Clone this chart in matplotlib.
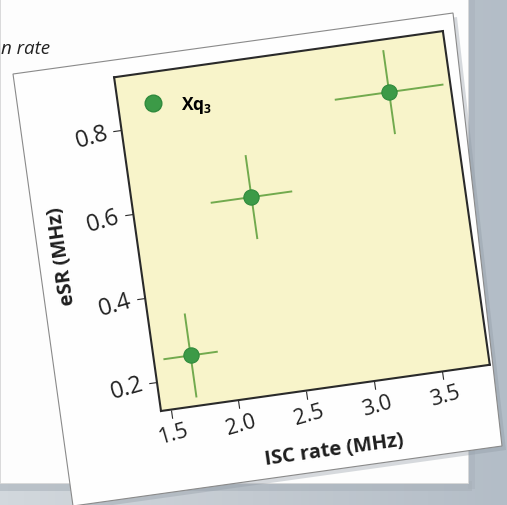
import matplotlib
matplotlib.use("Agg")
import numpy as np
import matplotlib.pyplot as plt
from matplotlib.transforms import Affine2D
from matplotlib.patches import Polygon, Rectangle
from matplotlib.lines import Line2D
import mpl_toolkits.axisartist.floating_axes as floating_axes
from mpl_toolkits.axisartist.grid_finder import FixedLocator, DictFormatter

# ---------------- data ----------------
x_vals = [1.7, 2.3, 3.4]
y_vals = [0.25, 0.60, 0.80]
x_err = [0.2, 0.3, 0.4]
y_err = [0.1, 0.1, 0.1]
x_ticks = [1.5, 2.0, 2.5, 3.0, 3.5]
y_ticks = [0.2, 0.4, 0.6, 0.8]
x_tick_labels = ["1.5", "2.0", "2.5", "3.0", "3.5"]
y_tick_labels = ["0.2", "0.4", "0.6", "0.8"]
series_label = "Xq$_3$"
x_label = "ISC rate (MHz)"
y_label = "eSR (MHz)"
caption_text = "n rate"

plt.rcParams['font.family'] = ['Open Sans', 'DejaVu Sans']
plt.rcParams['mathtext.fontset'] = 'custom'
plt.rcParams['mathtext.rm'] = 'Open Sans:bold'
plt.rcParams['mathtext.default'] = 'rm'

W, H = 507, 506
fig = plt.figure(figsize=(W / 100, H / 100), dpi=100)
fig.patch.set_facecolor('#c3cad1')

# ---------------- background / paper (image pixel coords) ----------------
bg = fig.add_axes([0, 0, 1, 1], zorder=-5)
bg.set_xlim(0, W)
bg.set_ylim(H, 0)
bg.axis('off')
grad = np.linspace(0, 1, 64)[None, :]
bg.imshow(grad, extent=(0, W, H, 0), cmap=matplotlib.colors.LinearSegmentedColormap.from_list(
    'g', ['#d2d8dd', '#c3cad1', '#b3bdc7']), aspect='auto', zorder=0)
# base sheet
bg.add_patch(Rectangle((0, 482), 472, 10, facecolor='#a7b0b9', alpha=0.55, edgecolor='none', zorder=1))
bg.add_patch(Rectangle((468, 0), 7, 490, facecolor='#a7b0b9', alpha=0.45, edgecolor='none', zorder=1))
bg.add_patch(Rectangle((0, 0), 468, 484, facecolor='#fdfdfd', edgecolor='#d8d8d8', lw=0.6, zorder=2))
# tilted card
card = [(13, 75), (453, 14), (502, 447), (73, 507)]
shadow = [(x + 4, y + 4) for x, y in card]
bg.add_patch(Polygon(shadow, closed=True, facecolor='#8e98a2', alpha=0.35, edgecolor='none', zorder=3))
bg.add_patch(Polygon(card, closed=True, facecolor='#fefefe', edgecolor='#8a8a8a', lw=0.8, zorder=4))
bg.text(1, 49, caption_text, fontsize=13.5, style='italic', color='#222222',
        ha='left', va='center', zorder=5)

# ---------------- rotated axes ----------------
x0, x1 = 1.43, 3.85
y0, y1 = 0.13, 0.925
ang = 8.0
sx = 332.0 / (x1 - x0)
sy = 337.0 / (y1 - y0)
tr = Affine2D().translate(-x0, -y0).scale(sx, sy).rotate_deg(ang)

gh = floating_axes.GridHelperCurveLinear(
    tr, extremes=(x0, x1, y0, y1),
    grid_locator1=FixedLocator(x_ticks),
    grid_locator2=FixedLocator(y_ticks),
    tick_formatter1=DictFormatter(dict(zip(x_ticks, x_tick_labels))),
    tick_formatter2=DictFormatter(dict(zip(y_ticks, y_tick_labels))))

corners = tr.transform(np.array([[x0, y0], [x1, y0], [x1, y1], [x0, y1]]))
bx0, by0 = corners.min(axis=0)
bx1, by1 = corners.max(axis=0)
ox, oy = 161.0, H - 412.0          # bottom-left corner of plot frame, figure px
cx = ox + (bx0 + bx1) / 2
cy = oy + (by0 + by1) / 2
bw = (bx1 - bx0) * 1.02
bh = (by1 - by0) * 1.02
rect = [(cx - bw / 2) / W, (cy - bh / 2) / H, bw / W, bh / H]

ax = fig.add_axes(rect, axes_class=floating_axes.FloatingAxes, grid_helper=gh)
ax.patch.set_facecolor('#f8f4ca')
ax.patch.set_zorder(0)

for name in ["left", "right", "top", "bottom"]:
    ax.axis[name].line.set_linewidth(1.5)
    ax.axis[name].line.set_color('#2a2a2a')
for name in ["right", "top"]:
    ax.axis[name].major_ticks.set_visible(False)
    ax.axis[name].major_ticklabels.set_visible(False)
for name, fs, lpad, rot in [("bottom", 15.5, 16, ang), ("left", 17, 14, 90 + ang)]:
    a = ax.axis[name]
    a.major_ticks.set_tick_out(True)
    a.major_ticks.set_ticksize(6)
    a.major_ticks.set_linewidth(1.3)
    a.major_ticks.set_color('#2a2a2a')
    a.major_ticklabels.set_fontsize(fs)
    a.major_ticklabels.set_color('#222222')
    a.major_ticklabels.set_pad(4)
    a.major_ticklabels.set_rotation(rot)
    a.label.set_fontsize(14.5)
    a.label.set_fontweight('bold')
    a.label.set_color('#1e1e1e')
    a.label.set_pad(lpad)
ax.axis["bottom"].label.set_text(x_label)
ax.axis["left"].label.set_text(y_label)

aux = ax.get_aux_axes(tr)
aux.errorbar(x_vals, y_vals, xerr=x_err, yerr=y_err, fmt='none',
             ecolor='#72aa4e', elinewidth=1.4, capsize=0, zorder=2)
aux.plot(x_vals, y_vals, ls='none', marker='o', markersize=11,
         markerfacecolor='#3c9a47', markeredgecolor='#2f8a3c', markeredgewidth=0.8, zorder=3)

handle = Line2D([], [], ls='none', marker='o', markersize=12,
                markerfacecolor='#3c9a47', markeredgecolor='#2f8a3c')
fig.legend(handles=[handle], labels=[series_label], loc='center left',
           bbox_to_anchor=(144.5 / W, 1 - 106 / H), frameon=False,
           handlelength=1.0, handletextpad=1.1, borderpad=0, borderaxespad=0,
           prop=dict(weight='bold', size=12.5))

fig.savefig("out.png", dpi=100, facecolor=fig.get_facecolor())
